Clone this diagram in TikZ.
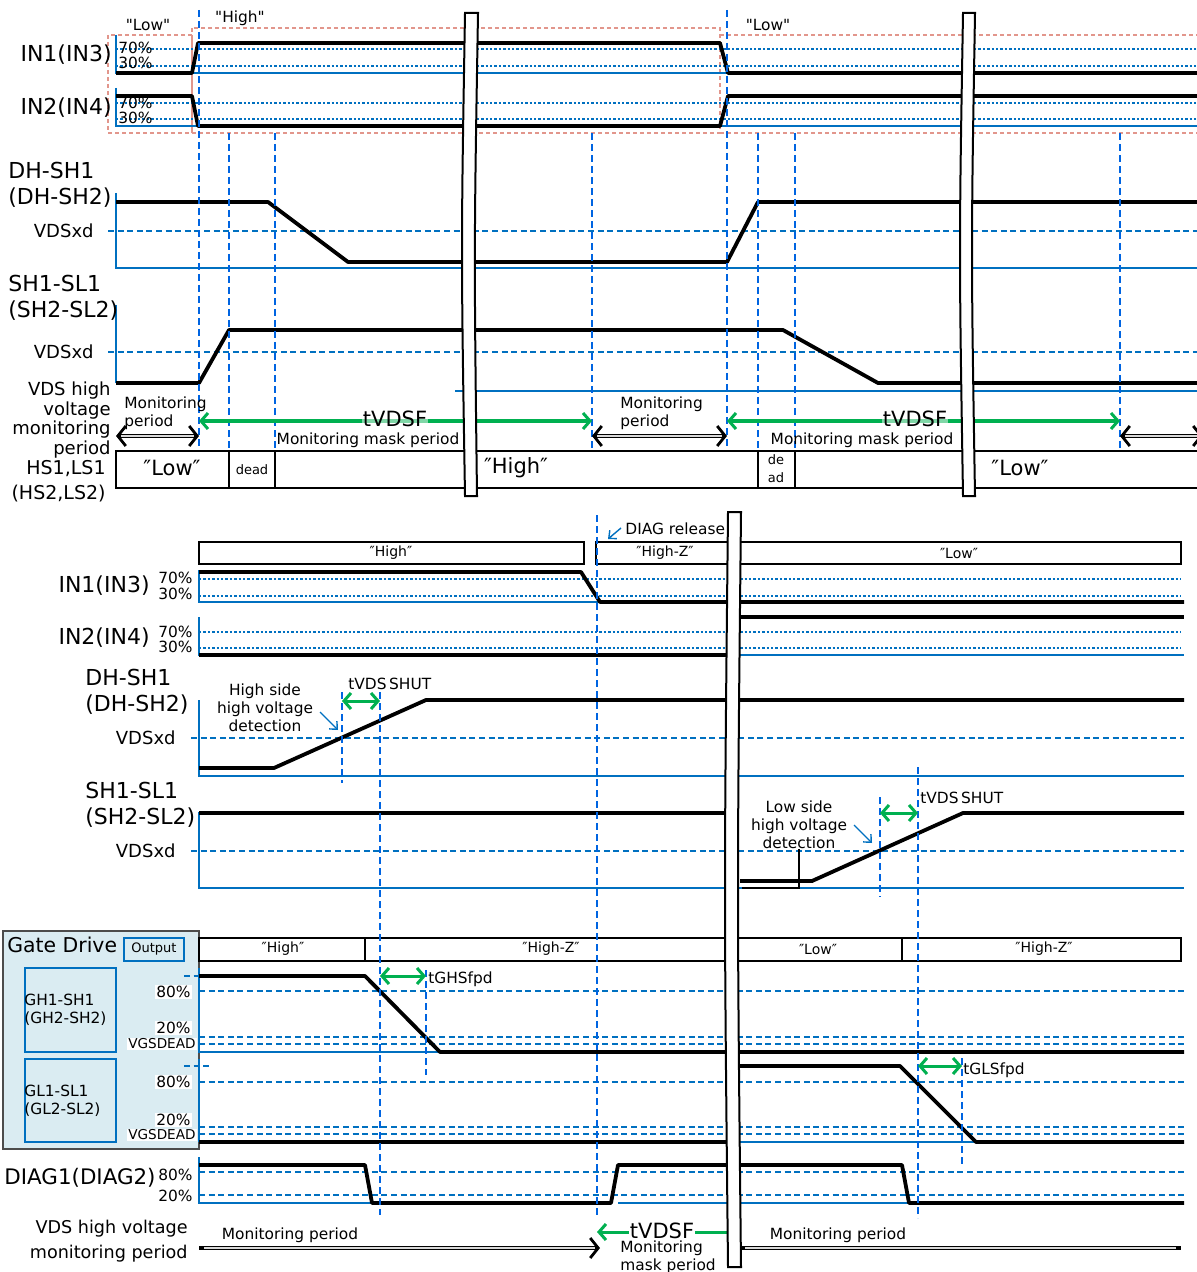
\documentclass[tikz,border=0pt]{standalone}
\usepackage{fontspec}
\setmainfont{DejaVu Sans}
\newfontfamily\plainq{DejaVu Sans}
\usetikzlibrary{arrows.meta}

\definecolor{dblue}{RGB}{0,112,192}
\definecolor{vblue}{RGB}{0,100,225}
\definecolor{grn}{RGB}{0,176,80}
\definecolor{pinkln}{RGB}{226,150,140}
\definecolor{gdfill}{RGB}{218,236,242}

\tikzset{
  gtip/.tip={Straight Barb[length=3.5pt,width=8pt]},
  btip/.tip={Straight Barb[length=4pt,width=10pt,line width=1.4pt]},
  ctip/.tip={Straight Barb[length=3pt,width=5.5pt]},
  sig/.style={line width=1.9pt, line join=round},
  axisln/.style={dblue, line width=1pt},
  vdash/.style={vblue, line width=1.4pt, dash pattern=on 3.5pt off 2pt},
  hdash/.style={dblue, line width=1.2pt, dash pattern=on 3pt off 1.8pt},
  pct/.style={dblue, line width=0.8pt, dash pattern=on 1.2pt off 1pt},
  pinkbox/.style={pinkln, line width=1pt, dash pattern=on 2pt off 1.5pt},
  grnarr/.style={grn, line width=1.5pt, gtip-gtip},
  monout/.style={line width=2pt, btip-btip},
  monin/.style={gray!30, line width=0.7pt, shorten <=2.5pt, shorten >=2.5pt},
  callout/.style={dblue, line width=0.7pt, -ctip},
  breakstrip/.style={fill=white, draw=black, line width=1pt},
  boxln/.style={line width=1.2pt},
  txtL/.style={inner sep=0pt, font=\fontsize{11}{13}\selectfont},
  txtM/.style={inner sep=0pt, font=\fontsize{9}{8.7}\selectfont},
  txtS/.style={inner sep=0pt, font=\fontsize{7.7}{9}\selectfont},
  txtB/.style={inner sep=0pt, font=\fontsize{10.5}{12}\selectfont},
  txtT/.style={inner sep=0pt, font=\fontsize{6.5}{9}\selectfont},
}

\begin{document}
\begin{tikzpicture}[x=0.5pt, y=-0.5pt]
  \useasboundingbox (0,0) rectangle (1197,1272);

  %%%%% upper chart %%%%%
  \draw[pinkbox] (108,35) rectangle (192,133) (192,28) rectangle (720,133)
                 (720,35) -- (1197,35) (720,133) -- (1197,133);
  \node[txtS] (low1) at (148,25) {\plainq "Low"};
  \node[txtS] (high1) at (240,18) {\plainq "High"};
  \node[txtS] (low2) at (768,25) {\plainq "Low"};

  % IN1 / IN2
  \foreach \y in {49,66,103,119} \draw[pct] (116,\y) -- (1197,\y);
  \draw[axisln] (116,35) -- (116,73) -- (1197,73);
  \draw[axisln] (116,88) -- (116,126) -- (1197,126);
  \draw[sig] (116,73) -- (192,73) -- (198,43) -- (720,43) -- (728,73) -- (1197,73);
  \draw[sig] (116,96) -- (192,96) -- (198,126) -- (720,126) -- (728,96) -- (1197,96);
  \node[txtL, anchor=east] (in1) at (112,55) {IN1(IN3)};
  \node[txtL, anchor=east] (in2) at (112,108) {IN2(IN4)};
  \node[txtS, anchor=west] (in1h) at (118,48) {70\%};
  \node[txtS, anchor=west] (in1l) at (118,63) {30\%};
  \node[txtS, anchor=west] (in2h) at (118,103) {70\%};
  \node[txtS, anchor=west] (in2l) at (118,118) {30\%};

  % DH-SH1
  \draw[hdash] (108,231) -- (1197,231);
  \draw[axisln] (116,193) -- (116,268) -- (1197,268);
  \draw[sig] (116,202) -- (268,202) -- (348,262) -- (727,262) -- (758,202) -- (1197,202);
  \node[txtL, anchor=west, align=left] (dh1) at (8,185) {DH-SH1\\(DH-SH2)};
  \node[txtM, anchor=east] (vdx1) at (94,231) {VDSxd};

  % SH1-SL1
  \draw[hdash] (108,352) -- (1197,352);
  \draw[axisln] (116,305) -- (116,383);
  \draw[axisln] (455,391) -- (1197,391);
  \draw[sig] (116,383) -- (199,383) -- (229,330) -- (783,330) -- (878,383) -- (1197,383);
  \node[txtL, anchor=west, align=left] (sh1) at (8,298) {SH1-SL1\\(SH2-SL2)};
  \node[txtM, anchor=east] (vdx2) at (94,352) {VDSxd};

  % timing marks
  \draw[vdash] (199,10) -- (199,450);
  \draw[vdash] (727,10) -- (727,450);
  \foreach \x in {229,275,592,758,795,1120} \draw[vdash] (\x,133) -- (\x,450);

  % monitoring periods
  \node[txtM, align=right, anchor=east] (vdsm1) at (111,420) {VDS high\\voltage\\monitoring\\period};
  \coordinate (mA) at (199,421); \coordinate (mB) at (592,421);
  \coordinate (mC) at (727,421); \coordinate (mD) at (1120,421);
  \coordinate (pA) at (116,436); \coordinate (pB) at (199,436);
  \coordinate (pC) at (592,436); \coordinate (pD) at (727,436);
  \coordinate (pE) at (1120,436); \coordinate (pF) at (1203,436);
  \draw[grnarr] (mA) -- (mB);
  \draw[grnarr] (mC) -- (mD);
  \foreach \a/\b in {pA/pB,pC/pD,pE/pF}{
    \draw[monout] (\a) -- (\b);
    \draw[monin] (\a) -- (\b);
  }
  \node[txtB, fill=white, fill opacity=0.5, text opacity=1, inner sep=0.5pt] (vf1) at (395,419) {tVDSF};
  \node[txtB, fill=white, fill opacity=0.5, text opacity=1, inner sep=0.5pt] (vf2) at (915,419) {tVDSF};
  \node[txtS] (mk1) at (368,440) {Monitoring mask period};
  \node[txtS] (mk2) at (862,440) {Monitoring mask period};
  \node[txtS, align=left, anchor=west] (mp1) at (124,413) {Monitoring\\period};
  \node[txtS, align=left, anchor=west] (mp2) at (620,413) {Monitoring\\period};

  % HS1,LS1 states
  \draw[boxln] (1197,451) -- (116,451) -- (116,488) -- (1197,488);
  \foreach \x in {229,275,758,795} \draw[boxln] (\x,451) -- (\x,488);
  \node[txtM, font=\fontsize{9.5}{12.5}\selectfont, align=right, anchor=east] (hs1) at (106,481) {HS1,LS1\\(HS2,LS2)};
  \node[txtB] (hsA) at (172,468) {″Low″};
  \node[txtT] (hsB) at (252,470) {dead};
  \node[txtB] (hsC) at (516,468) {″High″};
  \node[txtT, align=center] (hsD) at (776,469) {de\\ad};
  \node[txtB] (hsE) at (1020,468) {″Low″};

  % breaks
  \draw[breakstrip] (465,13) -- (478,13) .. controls (474,250) .. (477,496) -- (465,496) .. controls (461,250) .. (465,13) -- cycle;
  \draw[breakstrip] (963,13) -- (975,13) .. controls (971,250) .. (975,496) -- (963,496) .. controls (959,250) .. (963,13) -- cycle;

  %%%%% lower chart %%%%%
  \draw[boxln] (199,542) rectangle (584,564);
  \draw[boxln] (596,542) rectangle (1181,564);
  \node[txtS, font=\fontsize{7}{9}\selectfont] (inH) at (391,553) {″High″};
  \node[txtS, font=\fontsize{7}{9}\selectfont] (inZ) at (665,553) {″High-Z″};
  \node[txtS, font=\fontsize{7}{9}\selectfont] (inL) at (959,553) {″Low″};
  \coordinate (dr) at (608,539);
  \node[txtS, anchor=west] (diag) at (625,529) {DIAG release};
  \draw[callout] (621,528) -- (dr);

  % IN1 / IN2
  \foreach \y in {579,596,632,648} \draw[pct] (199,\y) -- (1181,\y);
  \draw[axisln] (199,570) -- (199,602) -- (1184,602);
  \draw[axisln] (199,617) -- (199,655) -- (1184,655);
  \draw[sig] (199,572) -- (581,572) -- (600,602) -- (1184,602);
  \draw[sig] (199,655) -- (734,655);
  \draw[sig] (734,617) -- (1184,617);
  \node[txtL, anchor=east] (in3) at (150,586) {IN1(IN3)};
  \node[txtL, anchor=east] (in4) at (150,638) {IN2(IN4)};
  \node[txtS, anchor=west] (in3h) at (158,578) {70\%};
  \node[txtS, anchor=west] (in3l) at (158,594) {30\%};
  \node[txtS, anchor=west] (in4h) at (158,632) {70\%};
  \node[txtS, anchor=west] (in4l) at (158,647) {30\%};

  % DH-SH1
  \draw[hdash] (191,738) -- (1184,738);
  \draw[axisln] (199,700) -- (199,776) -- (1184,776);
  \draw[sig] (199,768) -- (274,768) -- (426,700) -- (1184,700);
  \node[txtL, anchor=west, align=left] (dh2) at (85,692) {DH-SH1\\(DH-SH2)};
  \node[txtM, anchor=east] (vdx3) at (176,738) {VDSxd};
  \node[txtS, align=center] (hsd) at (265,708) {High side\\high voltage\\detection};
  \coordinate (hsp) at (338,730);
  \draw[callout] (320,712) -- (hsp);

  % SH1-SL1
  \draw[hdash] (191,851) -- (1184,851);
  \draw[axisln] (199,812) -- (199,888) -- (1184,888);
  \draw[sig] (199,813) -- (734,813);
  \draw[sig] (740,881) -- (812,881) -- (963,813) -- (1184,813);
  \draw[line width=0.8pt] (742,888) -- (799,888) -- (799,849);
  \node[txtL, anchor=west, align=left] (sh2) at (85,805) {SH1-SL1\\(SH2-SL2)};
  \node[txtM, anchor=east] (vdx4) at (176,851) {VDSxd};
  \node[txtS, align=center] (lsd) at (799,825) {Low side\\high voltage\\detection};
  \coordinate (lsp) at (872,843);
  \draw[callout] (854,825) -- (lsp);

  % Gate Drive
  \draw[fill=gdfill, draw=black!70, line width=0.8pt] (3,931) rectangle (199,1149);
  \node[txtB, font=\fontsize{10.2}{12}\selectfont, anchor=west] (gd) at (7,945) {Gate Drive};
  \node[txtT, draw=dblue, line width=1pt, minimum width=30pt, minimum height=11.5pt] (outp) at (154,949.5) {Output};
  \draw[dblue, line width=1pt] (25,968) rectangle (116,1052);
  \draw[dblue, line width=1pt] (25,1059) rectangle (116,1142);
  \node[txtS, align=left, anchor=west] (gh) at (24,1010) {GH1-SH1\\(GH2-SH2)};
  \node[txtS, align=left, anchor=west] (gl) at (24,1101) {GL1-SL1\\(GL2-SL2)};

  \draw[boxln] (199,938) rectangle (1181,961);
  \foreach \x in {365,902} \draw[boxln] (\x,938) -- (\x,961);
  \node[txtS, font=\fontsize{7}{9}\selectfont] (gdA) at (283,949) {″High″};
  \node[txtS, font=\fontsize{7}{9}\selectfont] (gdB) at (551,949) {″High-Z″};
  \node[txtS, font=\fontsize{7}{9}\selectfont] (gdC) at (818,949) {″Low″};
  \node[txtS, font=\fontsize{7}{9}\selectfont] (gdD) at (1044,949) {″High-Z″};

  % GH1-SH1
  \foreach \y in {991,1037,1044} \draw[hdash] (199,\y) -- (1184,\y);
  \draw[hdash] (184,976) -- (199,976);
  \draw[axisln] (199,968) -- (199,1052) -- (440,1052);
  \draw[sig] (199,976) -- (365,976) -- (440,1052) -- (1184,1052);
  \node[txtS, fill=white, inner sep=0.5pt, anchor=east] (gh8) at (192,992) {80\%};
  \node[txtS, fill=white, inner sep=0.5pt, anchor=east] (gh2) at (192,1028) {20\%};
  \node[txtS, font=\fontsize{6.8}{8}\selectfont, fill=white, inner sep=0.5pt, anchor=east] (ghv) at (197,1044) {VGSDEAD};

  % GL1-SL1
  \foreach \y in {1082,1127,1134} \draw[hdash] (199,\y) -- (1184,\y);
  \draw[hdash] (184,1066) -- (211,1066);
  \draw[axisln] (199,1059) -- (199,1142);
  \draw[axisln] (740,1142) -- (976,1142);
  \draw[sig] (199,1142) -- (734,1142);
  \draw[sig] (740,1066) -- (900,1066) -- (976,1142) -- (1184,1142);
  \node[txtS, fill=white, inner sep=0.5pt, anchor=east] (gl8) at (192,1082) {80\%};
  \node[txtS, fill=white, inner sep=0.5pt, anchor=east] (gl2) at (192,1120) {20\%};
  \node[txtS, font=\fontsize{6.8}{8}\selectfont, fill=white, inner sep=0.5pt, anchor=east] (glv) at (197,1135) {VGSDEAD};

  % DIAG
  \foreach \y in {1172,1195} \draw[hdash] (199,\y) -- (1184,\y);
  \draw[axisln] (199,1157) -- (199,1203) -- (373,1203);
  \draw[axisln] (618,1203) -- (909,1203);
  \draw[sig] (199,1165) -- (365,1165) -- (372,1203) -- (611,1203) -- (618,1165) -- (902,1165) -- (909,1203) -- (1184,1203);
  \node[txtL, font=\fontsize{10.7}{13}\selectfont, anchor=west] (dg) at (4,1178) {DIAG1(DIAG2)};
  \node[txtS, anchor=west] (dg8) at (158,1175) {80\%};
  \node[txtS, anchor=west] (dg2) at (158,1196) {20\%};

  % timing marks
  \draw[vdash] (597,515) -- (597,1215);
  \draw[vdash] (342,692) -- (342,783);
  \draw[vdash] (380,692) -- (380,1215);
  \draw[vdash] (426,970) -- (426,1075);
  \draw[vdash] (880,797) -- (880,897);
  \draw[vdash] (918,767) -- (918,1218);
  \draw[vdash] (962,1058) -- (962,1165);

  % delay arrows
  \coordinate (sA) at (342,701); \coordinate (sB) at (380,701);
  \coordinate (sC) at (880,813); \coordinate (sD) at (918,813);
  \coordinate (fA) at (380,976); \coordinate (fB) at (426,976);
  \coordinate (fC) at (918,1066); \coordinate (fD) at (962,1066);
  \draw[grnarr] (sA) -- (sB);
  \draw[grnarr] (sC) -- (sD);
  \draw[grnarr] (fA) -- (fB);
  \draw[grnarr] (fC) -- (fD);
  \node[txtS, anchor=west] (shut1) at (348,684) {tVDS\,SHUT};
  \node[txtS, anchor=west] (shut2) at (920,798) {tVDS\,SHUT};
  \node[txtS, anchor=west] (ghf) at (428,979) {tGHSfpd};
  \node[txtS, anchor=west] (glf) at (963,1070) {tGLSfpd};

  % monitoring periods
  \node[txtM, font=\fontsize{8.8}{12.5}\selectfont, align=right, anchor=east] (vdsm2) at (188,1241) {VDS high voltage\\monitoring period};
  \coordinate (qA) at (199,1248); \coordinate (qB) at (600,1248);
  \coordinate (qC) at (740,1248); \coordinate (qD) at (1181,1248);
  \coordinate (kA) at (597,1232); \coordinate (kB) at (730,1232);
  \draw[monout, -btip] (qA) -- (qB);
  \draw[monin] (qA) -- (qB);
  \draw[monout, -] (qC) -- (qD);
  \draw[monin] (qC) -- (qD);
  \draw[grn, line width=1.5pt, gtip-] (kA) -- (kB);
  \node[txtB, fill=white, inner sep=0.5pt] (vf3) at (662,1231) {tVDSF};
  \node[txtS] (mp3) at (290,1235) {Monitoring period};
  \node[txtS] (mp4) at (838,1235) {Monitoring period};
  \node[txtS, align=left, anchor=west] (mk3) at (620,1257) {Monitoring\\mask period};

  % break
  \draw[breakstrip] (728,512) -- (741,512) .. controls (737,890) .. (741,1267) -- (728,1267) .. controls (724,890) .. (728,512) -- cycle;
\end{tikzpicture}
\end{document}
